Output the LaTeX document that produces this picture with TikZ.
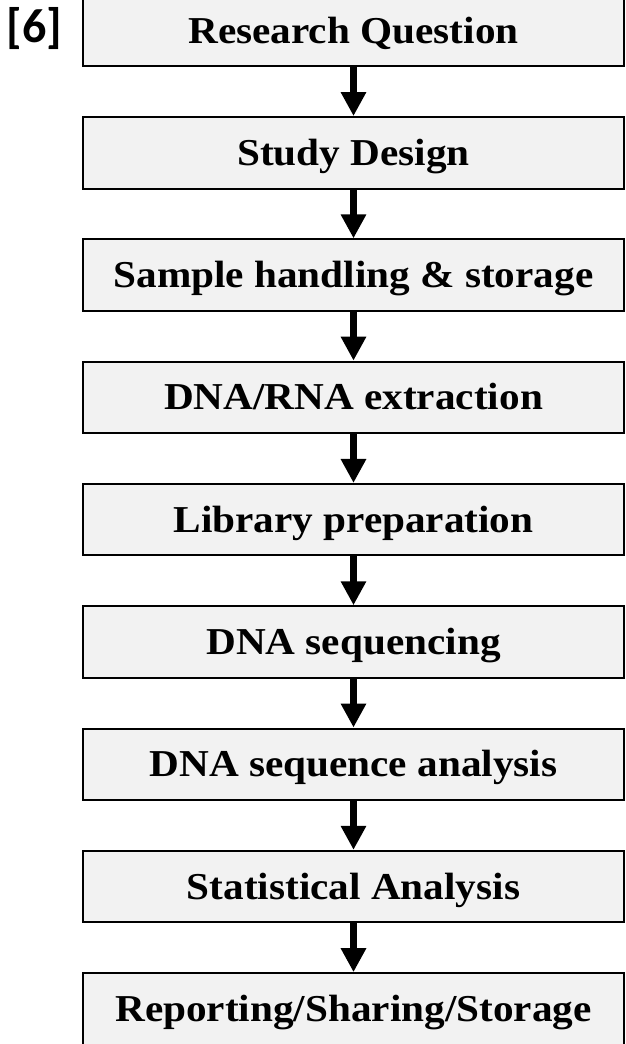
\documentclass[tikz,border=0pt]{standalone}
\usepackage{fontspec}
\newfontfamily\labelfont{Carlito}[BoldFont={Carlito Bold}]
\newfontfamily\stepface{Liberation Serif}[BoldFont={Liberation Serif Bold},
  BoldFeatures={FakeStretch=1.085}]
\usetikzlibrary{arrows.meta}
\definecolor{boxfill}{HTML}{F2F2F2}
\begin{document}
\begin{tikzpicture}[x=1pt,y=1pt,
  stepbox/.style={draw=black, line width=2pt, fill=boxfill,
    minimum width=541pt, minimum height=71.5pt, inner sep=0pt,
    text height=25pt, text depth=0pt,
    font=\stepface\bfseries\fontsize{38}{44}\selectfont},
  flow/.style={line width=7pt, -{Triangle[width=24pt,length=24pt]}}]
\useasboundingbox (0,0) rectangle (626,-1044);
% process steps, one every 122.3pt
\node[stepbox] (q) at (353.5,-30.5)  {Research Question};
\node[stepbox] (d) at (353.5,-152.8) {Study Design};
\node[stepbox] (s) at (353.5,-275.1) {Sample handling \& storage};
\node[stepbox] (e) at (353.5,-397.4) {DNA/RNA extraction};
\node[stepbox] (l) at (353.5,-519.7) {Library preparation};
\node[stepbox] (n) at (353.5,-642.0) {DNA sequencing};
\node[stepbox] (a) at (353.5,-764.3) {DNA sequence analysis};
\node[stepbox] (t) at (353.5,-886.6) {Statistical Analysis};
\node[stepbox] (r) at (353.5,-1008.9) {Reporting/Sharing/Storage};
% connectors
\foreach \u/\v in {q/d,d/s,s/e,e/l,l/n,n/a,a/t,t/r}
  \draw[flow] (\u.south) -- (\v.north);
\node[font=\labelfont\bfseries\fontsize{48}{54}\selectfont, inner sep=0pt] (ref) at (34.5,-29) {[6]};
\end{tikzpicture}
\end{document}
